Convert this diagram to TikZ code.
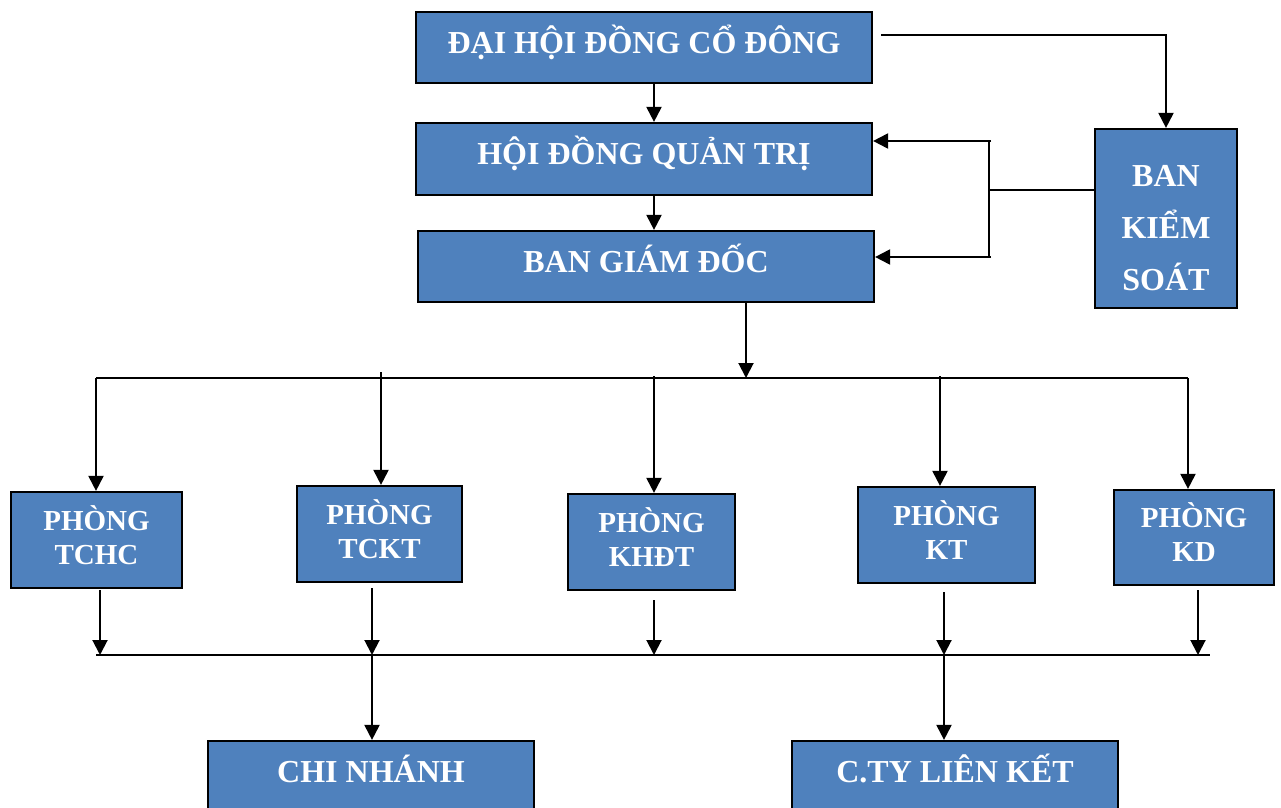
\documentclass[tikz,border=0pt]{standalone}
\usepackage{fontspec}
\setmainfont{Liberation Serif}
\usetikzlibrary{arrows.meta}
\definecolor{boxblue}{HTML}{4F81BD}

\begin{document}
\begin{tikzpicture}[x=0.5pt,y=-0.5pt,>={Triangle[length=7.5pt,width=7.5pt]},line width=1pt,
    unit box/.style={draw=black,fill=boxblue,line width=1.1pt,text=white,align=center,
      inner sep=0pt,text height=10pt,text depth=4pt,font=\bfseries\fontsize{16}{26}\selectfont},
    dept box/.style={unit box,minimum height=48pt,text height=27pt,text depth=3pt,
      font=\bfseries\fontsize{14.5}{17}\selectfont}]
    \useasboundingbox (0,0) rectangle (1281,808);
    \clip (0,0) rectangle (1281,808);
    % top of the company
    \node[unit box,minimum width=228pt,minimum height=35.5pt] (dhcd) at (644,47.5) {ĐẠI HỘI ĐỒNG CỔ ĐÔNG};
    \node[unit box,minimum width=228pt,minimum height=36pt] (hdqt) at (644,159) {HỘI ĐỒNG QUẢN TRỊ};
    \node[unit box,minimum width=228pt,minimum height=35.5pt] (bgd) at (646,266.5) {BAN GIÁM ĐỐC};
    \node[unit box,minimum width=71pt,minimum height=89.5pt,text height=76.5pt,text depth=4pt] (bks) at (1166,218.5) {BAN\\KIỂM\\SOÁT};
    % phong ban
    \node[dept box,minimum width=85.5pt] (tchc) at (96.5,540) {PHÒNG\\TCHC};
    \node[dept box,minimum width=82.5pt] (tckt) at (379.5,534) {PHÒNG\\TCKT};
    \node[dept box,minimum width=83.5pt] (khdt) at (651.5,542) {PHÒNG\\KHĐT};
    \node[dept box,minimum width=88.5pt] (kt) at (946.5,535) {PHÒNG\\KT};
    \node[dept box,minimum width=80pt,minimum height=47.5pt] (kd) at (1194,537.5) {PHÒNG\\KD};
    % don vi truc thuoc
    \node[unit box,minimum width=163pt,minimum height=35.5pt] (cn) at (371,776.5) {CHI NHÁNH};
    \node[unit box,minimum width=163pt,minimum height=35.5pt] (cty) at (955,776.5) {C.TY LIÊN KẾT};

    \draw[->] ([xshift=5pt]dhcd.south) -- ([xshift=5pt]hdqt.north);
    \draw[->] ([xshift=5pt]hdqt.south) -- ([xshift=5pt]hdqt.south |- bgd.north);
    \draw[->] ([xshift=4pt,yshift=6.25pt]dhcd.east) -| (bks.north);

    % ban kiem soat
    \coordinate (fb) at (989,190);
    \coordinate (fbtop) at (991,141);
    \coordinate (fbbot) at (991,257);
    \draw (bks.west |- fb) -- (fb);
    \draw (989,141) -- (989,257);
    \draw[->] (fbtop) -- (hdqt.east |- fbtop);
    \draw[->] (fbbot) -- (bgd.east |- fbbot);

    % duong chia xuong cac phong
    \coordinate (busL) at (96,378);
    \coordinate (busR) at (1188,378);
    \coordinate (busM) at (746,378);
    \draw (busL) -- (busR);
    \draw[->] (bgd.south -| busM) -- (busM);
    \draw[->] (busL) -- (busL |- tchc.north);
    \draw[->] (381,372) -- (381,372 |- tckt.north);
    \draw[->] (654,376) -- (654,376 |- khdt.north);
    \draw[->] (940,376) -- (940,376 |- kt.north);
    \draw[->] (busR) -- (busR |- kd.north);

    % duong gom phia duoi
    \coordinate (lowL) at (96,655);
    \coordinate (lowR) at (1210,655);
    \draw (lowL) -- (lowR);
    \draw[->] (100,590) -- (100,655);
    \draw[->] (372,588) -- (372,655);
    \draw[->] (654,600) -- (654,655);
    \draw[->] (944,592) -- (944,655);
    \draw[->] (1198,590) -- (1198,655);
    \draw[->] (372,655) -- (372,655 |- cn.north);
    \draw[->] (944,655) -- (944,655 |- cty.north);
\end{tikzpicture}
\end{document}
